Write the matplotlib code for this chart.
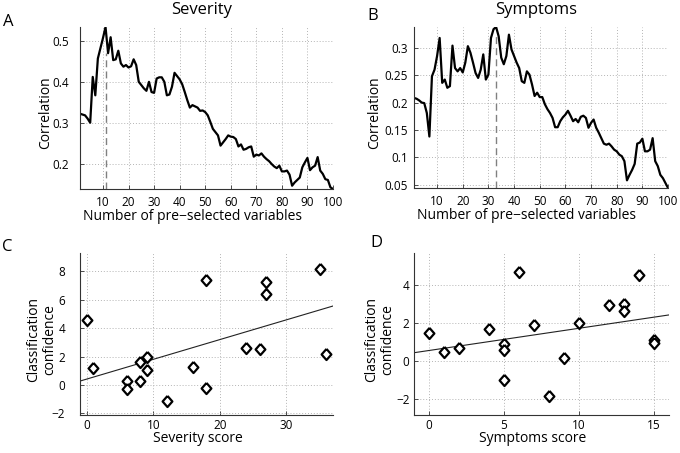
import numpy as np
import matplotlib
matplotlib.use("Agg")
import matplotlib.pyplot as plt
from matplotlib.ticker import FormatStrFormatter

plt.rcParams["font.family"] = ["Open Sans", "DejaVu Sans"]

n_vars = np.arange(1, 101)

sev_corr = [0.322, 0.320, 0.318, 0.310, 0.300, 0.412, 0.367, 0.457, 0.482, 0.507,
            0.534, 0.470, 0.509, 0.453, 0.455, 0.476, 0.445, 0.437, 0.441, 0.435,
            0.438, 0.455, 0.441, 0.400, 0.392, 0.384, 0.378, 0.400, 0.375, 0.373,
            0.408, 0.411, 0.411, 0.400, 0.367, 0.369, 0.388, 0.422, 0.414, 0.406,
            0.394, 0.375, 0.355, 0.337, 0.343, 0.340, 0.337, 0.329, 0.330, 0.326,
            0.318, 0.302, 0.285, 0.277, 0.269, 0.244, 0.252, 0.260, 0.269, 0.266,
            0.265, 0.260, 0.242, 0.247, 0.234, 0.236, 0.240, 0.242, 0.217, 0.222,
            0.220, 0.225, 0.217, 0.211, 0.206, 0.199, 0.193, 0.189, 0.195, 0.181,
            0.181, 0.183, 0.173, 0.146, 0.154, 0.160, 0.166, 0.191, 0.203, 0.214,
            0.184, 0.191, 0.195, 0.216, 0.183, 0.175, 0.162, 0.160, 0.142, 0.138]

symp_corr = [0.2085, 0.207, 0.204, 0.200, 0.199, 0.181, 0.138, 0.248, 0.260, 0.285,
             0.318, 0.236, 0.242, 0.227, 0.230, 0.304, 0.263, 0.257, 0.263, 0.255,
             0.273, 0.303, 0.291, 0.273, 0.254, 0.245, 0.260, 0.288, 0.242, 0.251,
             0.318, 0.334, 0.338, 0.321, 0.282, 0.270, 0.285, 0.324, 0.297, 0.285,
             0.273, 0.263, 0.239, 0.236, 0.257, 0.251, 0.233, 0.212, 0.218, 0.210,
             0.210, 0.197, 0.188, 0.181, 0.172, 0.155, 0.155, 0.166, 0.173, 0.178,
             0.185, 0.176, 0.166, 0.170, 0.164, 0.174, 0.176, 0.172, 0.154, 0.163,
             0.169, 0.154, 0.145, 0.135, 0.125, 0.123, 0.125, 0.120, 0.114, 0.111,
             0.105, 0.102, 0.093, 0.058, 0.068, 0.077, 0.088, 0.125, 0.127, 0.134,
             0.111, 0.111, 0.114, 0.135, 0.093, 0.084, 0.068, 0.062, 0.053, 0.044]

sev_score = [0, 1, 6, 6, 8, 8, 9, 9, 12, 16, 18, 18, 24, 26, 27, 27, 35, 36]
sev_conf = [4.55, 1.2, 0.31, -0.31, 1.63, 0.25, 1.98, 1.08, -1.12, 1.29,
            7.42, -0.19, 2.58, 2.51, 7.26, 6.40, 8.16, 2.21]

symp_score = [0, 1, 2, 4, 5, 5, 5, 6, 7, 8, 9, 10, 12, 13, 13, 14, 15, 15]
symp_conf = [1.46, 0.49, 0.70, 1.68, 0.88, 0.56, -1.0, 4.70, 1.89, -1.84,
             0.14, 2.02, 2.95, 3.0, 2.65, 4.56, 1.10, 0.93]

GRID = dict(color="#b4b4b4", linestyle=(0, (1, 2)), linewidth=0.7)


def style_axes(ax, ypad, xpad):
    for s in ("top", "right"):
        ax.spines[s].set_visible(False)
    for s in ("left", "bottom"):
        ax.spines[s].set_color("#333333")
        ax.spines[s].set_linewidth(0.8)
    ax.grid(True, **GRID)
    ax.set_axisbelow(True)
    ax.tick_params(direction="in", length=3, width=0.6, color="#333333", labelsize=8.5)
    ax.tick_params(axis="y", pad=ypad)
    ax.tick_params(axis="x", pad=xpad)


fig = plt.figure(figsize=(6.8, 4.53), dpi=100)

# top row: correlation vs number of pre-selected variables
panels = [
    ([0.1176, 0.5828, 0.3721, 0.3576], sev_corr, "Severity", [0.2, 0.3, 0.4, 0.5], 8.0, -0.107),
    ([0.6088, 0.5850, 0.3736, 0.3554], symp_corr, "Symptoms",
     [0.05, 0.1, 0.15, 0.2, 0.25, 0.3], 4.5, -0.126),
]
for rect, corr, title, yt, ypad, ylx in panels:
    ax = fig.add_axes(rect)
    corr = np.array(corr)
    best = int(np.argmax(corr))
    ax.plot([n_vars[best], n_vars[best]], [corr.min(), corr[best + 1]],
            color="#808080", lw=1.0, ls=(0, (5, 3)))
    ax.plot(n_vars, corr, color="black", lw=1.6)
    ax.set_xlim(1, 100)
    ax.set_ylim(corr.min(), corr.max())
    ax.set_xticks(np.arange(10, 101, 10))
    ax.set_yticks(yt)
    ax.yaxis.set_major_formatter(FormatStrFormatter("%g"))
    style_axes(ax, ypad, 5)
    ax.set_xlabel("Number of pre\u2212selected variables", fontsize=10)
    ax.xaxis.set_label_coords(0.443, -0.125)
    ax.set_ylabel("Correlation", fontsize=10)
    ax.yaxis.set_label_coords(ylx, 0.47)
    ax.text(0.48, 1.078, title, transform=ax.transAxes, ha="center",
            va="baseline", fontsize=12)

# bottom row: classification confidence vs score
scatters = [
    ([0.1176, 0.0839, 0.3721, 0.3576], sev_score, sev_conf, (-1, 37), (-2.12, 9.3),
     [0, 10, 20, 30], [-2, 0, 2, 4, 6, 8], "Severity score", 10.5, -0.091),
    ([0.6088, 0.0839, 0.3750, 0.3576], symp_score, symp_conf, (-1, 16), (-2.85, 5.7),
     [0, 5, 10, 15], [-2, 0, 2, 4], "Symptoms score", 3.2, -0.075),
]
diamond = [(0, 1), (0.88, 0), (0, -1), (-0.88, 0), (0, 1)]
for rect, xs, ys, xl, yl, xt, yt, xlab, ypad, ylx in scatters:
    ax = fig.add_axes(rect)
    slope, icpt = np.polyfit(xs, ys, 1)
    lx = np.array(xl)
    ax.plot(lx, slope * lx + icpt, color="#222222", lw=0.8)
    ax.plot(xs, ys, ls="none", marker=diamond, ms=8, mfc="white",
            mec="black", mew=1.6)
    ax.set_xlim(*xl)
    ax.set_ylim(*yl)
    ax.set_xticks(xt)
    ax.set_yticks(yt)
    style_axes(ax, ypad, 3.0)
    ax.set_xlabel(xlab, fontsize=10)
    ax.xaxis.set_label_coords(0.465, -0.10)
    ax.set_ylabel("Classification\nconfidence", fontsize=10, linespacing=1.1)
    ax.yaxis.set_label_coords(ylx, 0.465)

for lab, x, y in [("A", 0.0118, 0.951), ("B", 0.5485, 0.965),
                  ("C", 0.0103, 0.455), ("D", 0.554, 0.4636)]:
    fig.text(x, y, lab, ha="center", va="center", fontsize=12)

fig.savefig("out.png", dpi=100)
